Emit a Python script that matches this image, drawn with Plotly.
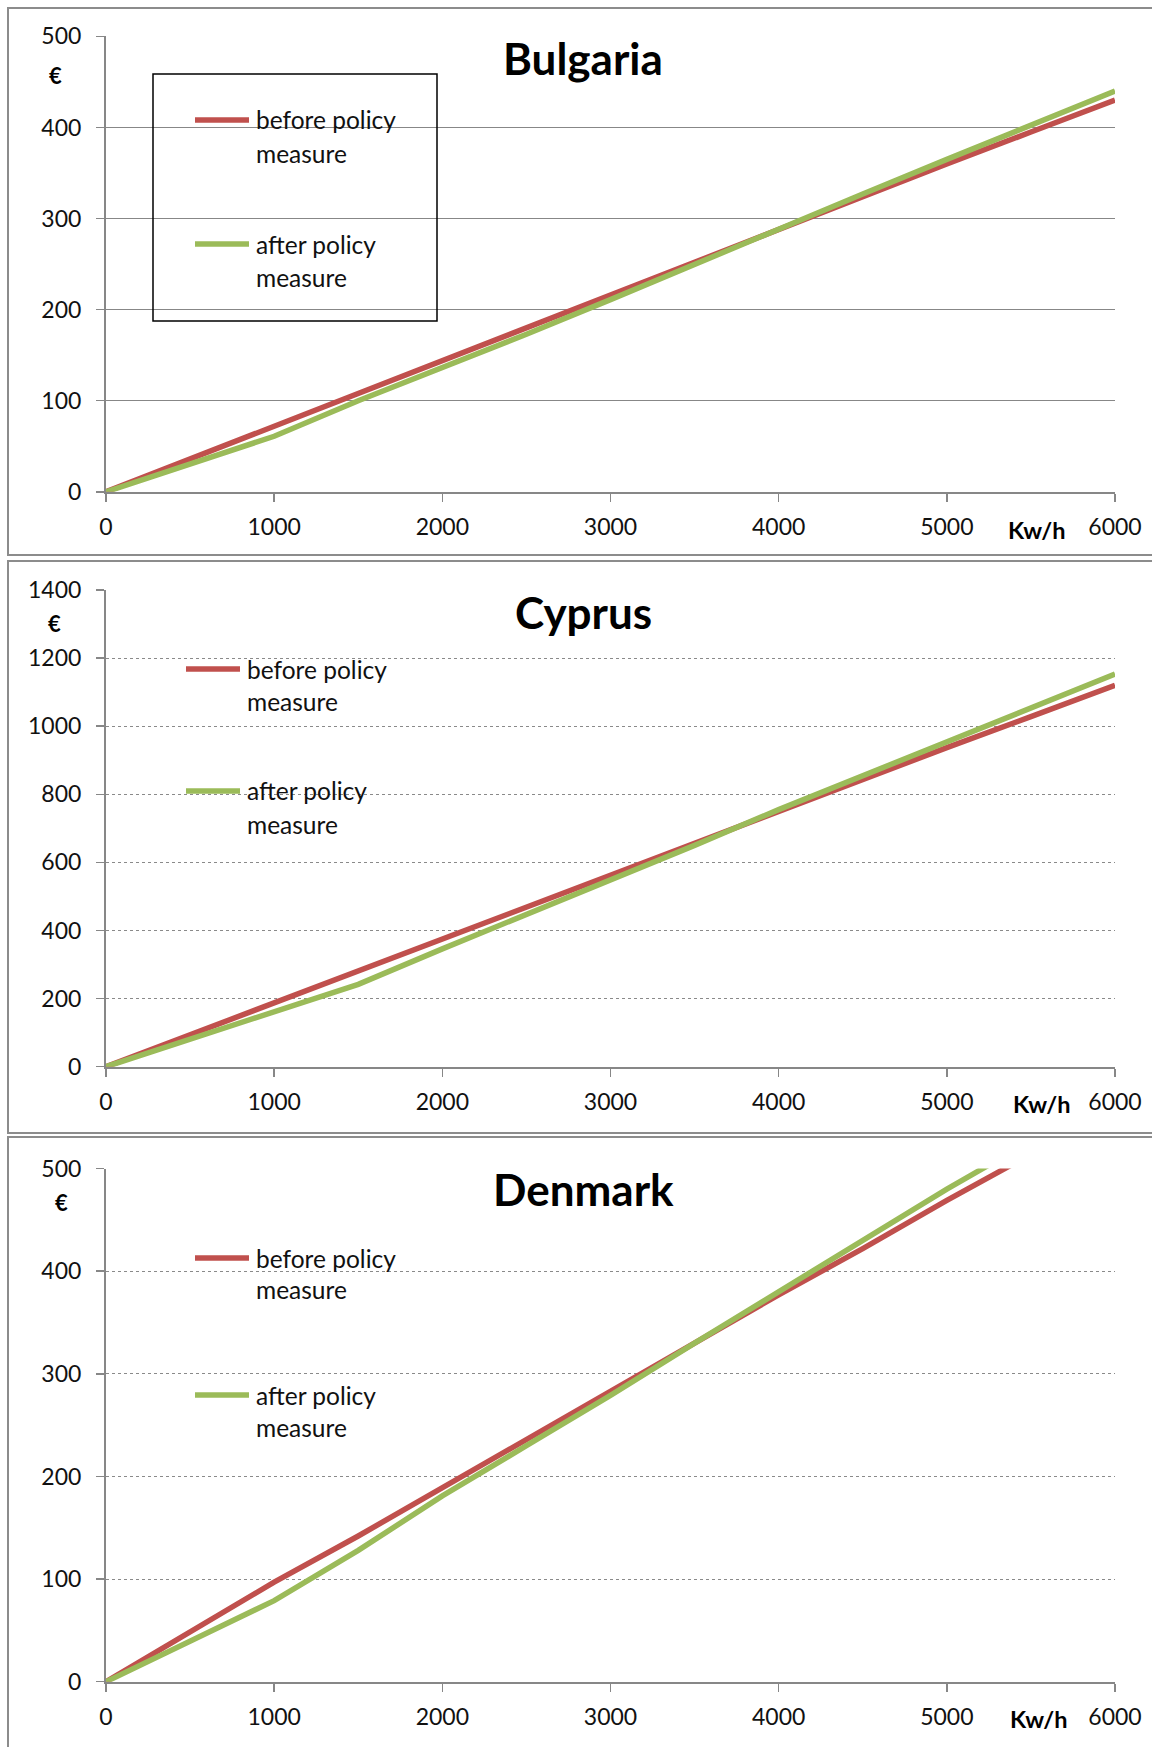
import plotly.graph_objects as go

# ---------------- data ----------------
kwh = [0, 500, 1000, 1500, 2000, 2500, 3000, 3500, 4000, 4500, 5000, 5500, 6000]

bulgaria_before = [0, 36, 73, 109, 144, 180, 216, 252, 288, 324, 360, 395, 430]
bulgaria_after = [0, 30, 61, 100, 136, 173, 211, 250, 289, 327, 365, 402, 440]

cyprus_before = [0, 94, 188, 281, 375, 469, 562, 655, 748, 842, 937, 1028, 1120]
cyprus_after = [0, 80, 161, 242, 346, 447, 547, 650, 755, 855, 954, 1053, 1153]

denmark_before = [0, 48, 97, 142, 189, 236, 284, 330, 377, 422, 469, 514, 559]
denmark_after = [0, 39, 79, 128, 181, 230, 279, 330, 380, 430, 480, 527, 575]

x_ticks = [0, 1000, 2000, 3000, 4000, 5000, 6000]
series_names = ["before policy measure", "after policy measure"]
legend_lines = [["before policy", "measure"], ["after policy", "measure"]]
colors = ["#C0504D", "#9BBB59"]

# ---------------- layout constants (pixels) ----------------
W, H = 1152, 1747
FONT = "Lato"
AXIS_COL = "#878787"
FRAME_COL = "#8c8c8c"


def fx(p):
    return p / W


def fy(p):
    return 1 - p / H


panels = [
    dict(title="Bulgaria", before=bulgaria_before, after=bulgaria_after, ymax=500, dtick=100,
         top=36.4, bottom=491.8, grid="solid", frame=(8, 555),
         euro=(55, 75), title_y=58, kw=(1037, 530),
         leg_x=(195, 249), leg_text_x=254, leg_y=[(120, 153), (244, 277)],
         box=(153, 74, 437, 321)),
    dict(title="Cyprus", before=cyprus_before, after=cyprus_after, ymax=1400, dtick=200,
         top=590.0, bottom=1066.7, grid="dot", frame=(561, 1133),
         euro=(54, 623), title_y=612, kw=(1042, 1104),
         leg_x=(186, 240), leg_text_x=245, leg_y=[(669, 701), (791, 824)],
         box=None),
    dict(title="Denmark", before=denmark_before, after=denmark_after, ymax=500, dtick=100,
         top=1168.6, bottom=1681.7, grid="dot", frame=(1137, 1800),
         euro=(61, 1202), title_y=1189, kw=(1039, 1719),
         leg_x=(195, 249), leg_text_x=254, leg_y=[(1258, 1289), (1395, 1427)],
         box=None),
]

fig = go.Figure()
shapes = []
annotations = []
layout_axes = {}

for i, p in enumerate(panels, start=1):
    xa = "x" if i == 1 else f"x{i}"
    ya = "y" if i == 1 else f"y{i}"
    xkey = "xaxis" if i == 1 else f"xaxis{i}"
    ykey = "yaxis" if i == 1 else f"yaxis{i}"

    for name, vals, col in zip(series_names, [p["before"], p["after"]], colors):
        fig.add_trace(go.Scatter(x=kwh, y=vals, mode="lines", name=name,
                                 line=dict(color=col, width=5.5),
                                 xaxis=xa, yaxis=ya, showlegend=False))

    layout_axes[xkey] = dict(
        domain=[fx(106), fx(1115)], anchor=ya, range=[0, 6000], automargin=False,
        tickvals=x_ticks, ticktext=[str(v) for v in x_ticks],
        showgrid=False, zeroline=False, showline=True, linecolor=AXIS_COL, linewidth=2,
        ticks="outside", ticklen=8, tickwidth=1.5, tickcolor=AXIS_COL,
        tickfont=dict(family=FONT, size=23, color="#111111"),
        ticklabelstandoff=6, fixedrange=True,
    )
    layout_axes[ykey] = dict(
        domain=[fy(p["bottom"]), fy(p["top"])], anchor=xa, range=[0, p["ymax"]], automargin=False,
        tick0=0, dtick=p["dtick"],
        showgrid=True, gridcolor=AXIS_COL if p["grid"] == "solid" else "#8a8a8a",
        gridwidth=1.5 if p["grid"] == "solid" else 1, griddash=p["grid"],
        zeroline=False, showline=True, linecolor=AXIS_COL, linewidth=2,
        ticks="outside", ticklen=8, tickwidth=1.5, tickcolor=AXIS_COL,
        tickfont=dict(family=FONT, size=23, color="#111111"),
        ticklabelstandoff=10, fixedrange=True,
    )

    # panel frame
    shapes.append(dict(type="rect", xref="paper", yref="paper",
                       x0=fx(8), x1=fx(1170), y0=fy(p["frame"][1]), y1=fy(p["frame"][0]),
                       line=dict(color=FRAME_COL, width=2), fillcolor="rgba(0,0,0,0)", layer="below"))

    # legend box (Bulgaria only)
    if p["box"]:
        bx0, by0, bx1, by1 = p["box"]
        shapes.append(dict(type="rect", xref="paper", yref="paper",
                           x0=fx(bx0), x1=fx(bx1), y0=fy(by1), y1=fy(by0),
                           line=dict(color="#000000", width=1.5), fillcolor="rgba(0,0,0,0)"))

    # legend entries
    for (ly1, ly2), col, texts in zip(p["leg_y"], colors, legend_lines):
        shapes.append(dict(type="line", xref="paper", yref="paper",
                           x0=fx(p["leg_x"][0]), x1=fx(p["leg_x"][1]), y0=fy(ly1), y1=fy(ly1),
                           line=dict(color=col, width=5.5)))
        for t, yy in zip(texts, (ly1, ly2)):
            annotations.append(dict(text=t, xref="paper", yref="paper",
                                    x=fx(p["leg_text_x"]), y=fy(yy), xanchor="left", yanchor="middle",
                                    showarrow=False, font=dict(family=FONT, size=24.5, color="#111111")))

    # title
    annotations.append(dict(text=f"<b>{p['title']}</b>", xref="paper", yref="paper",
                            x=fx(583), y=fy(p["title_y"]), xanchor="center", yanchor="middle",
                            showarrow=False, font=dict(family=FONT, size=44, color="#000000")))
    # euro unit
    annotations.append(dict(text="<b>€</b>", xref="paper", yref="paper",
                            x=fx(p["euro"][0]), y=fy(p["euro"][1]), xanchor="center", yanchor="middle",
                            showarrow=False, font=dict(family=FONT, size=22, color="#000000")))
    # Kw/h unit
    annotations.append(dict(text="<b>Kw/h</b>", xref="paper", yref="paper",
                            x=fx(p["kw"][0]), y=fy(p["kw"][1]), xanchor="center", yanchor="middle",
                            showarrow=False, font=dict(family=FONT, size=23.5, color="#000000")))

fig.update_layout(
    width=W, height=H,
    margin=dict(l=0, r=0, t=0, b=0, autoexpand=False),
    paper_bgcolor="white", plot_bgcolor="white",
    showlegend=False, hovermode=False,
    shapes=shapes, annotations=annotations,
    **layout_axes,
)

fig.write_html("out.html", config={"displayModeBar": False, "staticPlot": True},
               post_script="document.body.style.margin='0';document.body.style.overflow='hidden';")
